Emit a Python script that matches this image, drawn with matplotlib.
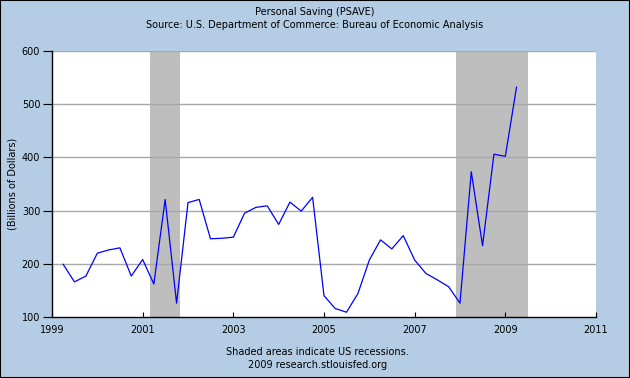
import matplotlib
matplotlib.use("Agg")
import matplotlib.pyplot as plt
import pandas as pd
from matplotlib.patches import Rectangle

# ---- data ----
dates = ["1999-04-01", "1999-07-01", "1999-10-01", "2000-01-01", "2000-04-01", "2000-07-01",
         "2000-10-01", "2001-01-01", "2001-04-01", "2001-07-01", "2001-10-01", "2002-01-01",
         "2002-04-01", "2002-07-01", "2002-10-01", "2003-01-01", "2003-04-01", "2003-07-01",
         "2003-10-01", "2004-01-01", "2004-04-01", "2004-07-01", "2004-10-01", "2005-01-01",
         "2005-04-01", "2005-07-01", "2005-10-01", "2006-01-01", "2006-04-01", "2006-07-01",
         "2006-10-01", "2007-01-01", "2007-04-01", "2007-07-01", "2007-10-01", "2008-01-01",
         "2008-04-01", "2008-07-01", "2008-10-01", "2009-01-01", "2009-04-01"]
psave = [199, 166, 177, 220, 226, 230,
         177, 208, 162, 321, 126, 315,
         321, 247, 248, 250, 295, 306,
         309, 274, 316, 299, 325, 140,
         116, 109, 144, 207, 245, 228,
         253, 207, 182, 170, 157, 126,
         373, 234, 406, 402, 532]
recession_starts = ["2001-03-01", "2007-12-01"]
recession_ends = ["2001-11-01", "2009-06-30"]
y_ticks = [100, 200, 300, 400, 500, 600]
x_ticks = [1999, 2001, 2003, 2005, 2007, 2009, 2011]


def to_year(s):
    d = pd.Timestamp(s)
    start = pd.Timestamp(year=d.year, month=1, day=1)
    end = pd.Timestamp(year=d.year + 1, month=1, day=1)
    return d.year + (d - start) / (end - start)


x = [to_year(d) for d in dates]

bg = "#b4cce4"
fig = plt.figure(figsize=(6.3, 3.78), dpi=100, facecolor=bg)
ax = fig.add_axes([52 / 630, 61 / 378, 544 / 630, 266 / 378])
ax.set_facecolor("white")

for s, e in zip(recession_starts, recession_ends):
    ax.axvspan(to_year(s), to_year(e), color="#bebebe", lw=0, zorder=1)

for yv in y_ticks[1:]:
    ax.axhline(yv, color="#a8a8a8", lw=1.0, zorder=2)

ax.plot(x, psave, color="#0000ff", lw=0.9, zorder=3)

ax.set_xlim(1999, 2011)
ax.set_ylim(100, 600)
ax.set_xticks(x_ticks)
ax.set_xticklabels([str(t) for t in x_ticks])
ax.set_yticks(y_ticks)
ax.set_yticklabels([str(t) for t in y_ticks])

fs = 7.0
ax.tick_params(axis="x", direction="in", length=3.5, width=0.8, color="#000000",
               labelsize=fs, pad=6)
ax.tick_params(axis="y", direction="out", length=6.5, width=0.8, color="#000000",
               labelsize=fs, pad=2)
for side in ["top", "right"]:
    ax.spines[side].set_visible(False)
ax.spines["left"].set_color("black")
ax.spines["bottom"].set_color("black")
ax.spines["left"].set_linewidth(1.0)
ax.spines["bottom"].set_linewidth(1.0)

ax.set_ylabel("(Billions of Dollars)", fontsize=fs, labelpad=3)

fig.text(0.5, 1 - 11.7 / 378, "Personal Saving (PSAVE)", ha="center", va="center", fontsize=fs)
fig.text(0.5, 1 - 25 / 378, "Source: U.S. Department of Commerce: Bureau of Economic Analysis",
         ha="center", va="center", fontsize=fs)
fig.text(317.5 / 630, 1 - 352 / 378, "Shaded areas indicate US recessions.",
         ha="center", va="center", fontsize=fs)
fig.text(317.5 / 630, 1 - 365 / 378, "2009 research.stlouisfed.org",
         ha="center", va="center", fontsize=fs)

fig.patches.append(Rectangle((0, 0), 1, 1, transform=fig.transFigure, fill=False,
                             edgecolor="black", lw=1.5))

fig.savefig("out.png", dpi=100, facecolor=bg)
